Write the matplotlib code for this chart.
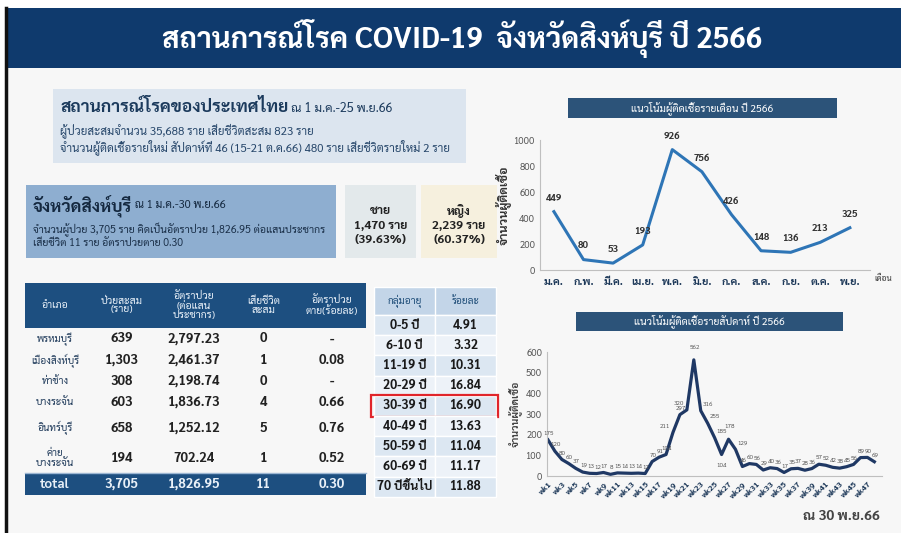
import matplotlib
matplotlib.use("Agg")
import matplotlib.pyplot as plt
from matplotlib.patches import Rectangle

plt.rcParams['font.family'] = ['Sarabun', 'Noto Sans Thai', 'DejaVu Sans']

# ---------------- data ----------------
title = "สถานการณ์โรค COVID-19  จังหวัดสิงห์บุรี ปี 2566"

th_head = "สถานการณ์โรคของประเทศไทย"
th_date = " ณ 1 ม.ค.-25 พ.ย.66"
th_lines = ["ผู้ป่วยสะสมจำนวน 35,688 ราย เสียชีวิตสะสม 823 ราย",
            "จำนวนผู้ติดเชื้อรายใหม่ สัปดาห์ที่ 46 (15-21 ต.ค.66) 480 ราย เสียชีวิตรายใหม่ 2 ราย"]

sb_head = "จังหวัดสิงห์บุรี"
sb_date = " ณ 1 ม.ค.-30 พ.ย.66"
sb_lines = ["จำนวนผู้ป่วย 3,705 ราย คิดเป็นอัตราป่วย 1,826.95 ต่อแสนประชากร",
            "เสียชีวิต 11 ราย อัตราป่วยตาย 0.30"]

male = ["ชาย", "1,470 ราย", "(39.63%)"]
female = ["หญิง", "2,239 ราย", "(60.37%)"]

dist_header = ["อำเภอ", "ป่วยสะสม\n(ราย)", "อัตราป่วย\n(ต่อแสน\nประชากร)", "เสียชีวิต\nสะสม", "อัตราป่วย\nตาย(ร้อยละ)"]
districts = ["พรหมบุรี", "เมืองสิงห์บุรี", "ท่าช้าง", "บางระจัน", "อินทร์บุรี", "ค่าย\nบางระจัน"]
cases = ["639", "1,303", "308", "603", "658", "194"]
rates = ["2,797.23", "2,461.37", "2,198.74", "1,836.73", "1,252.12", "702.24"]
deaths = ["0", "1", "0", "4", "5", "1"]
cfr = ["-", "0.08", "-", "0.66", "0.76", "0.52"]
total_row = ["total", "3,705", "1,826.95", "11", "0.30"]

age_header = ["กลุ่มอายุ", "ร้อยละ"]
age_groups = ["0-5 ปี", "6-10 ปี", "11-19 ปี", "20-29 ปี", "30-39 ปี",
              "40-49 ปี", "50-59 ปี", "60-69 ปี", "70 ปีขึ้นไป"]
age_pct = ["4.91", "3.32", "10.31", "16.84", "16.90", "13.63", "11.04", "11.17", "11.88"]
age_highlight = "30-39 ปี"

months = ["ม.ค.", "ก.พ.", "มี.ค.", "เม.ย.", "พ.ค.", "มิ.ย.", "ก.ค.", "ส.ค.", "ก.ย.", "ต.ค.", "พ.ย."]
month_cases = [449, 80, 53, 193, 926, 756, 426, 148, 136, 213, 325]

weeks = list(range(1, 49))
week_cases = [175, 120, 80, 60, 37, 19, 13, 12, 17, 8, 15, 14, 13, 14, 12, 70,
              91, 104, 211, 297, 320, 562, 316, 255, 185, 104, 178, 129, 46, 60,
              56, 29, 40, 36, 17, 35, 37, 28, 36, 57, 52, 42, 38, 45, 56, 89, 90, 69]

# ---------------- figure / canvas in pixel units ----------------
W, H = 901, 533
fig = plt.figure(figsize=(W / 100, H / 100), dpi=100)
cv = fig.add_axes([0, 0, 1, 1])
cv.set_xlim(0, W)
cv.set_ylim(H, 0)
cv.axis("off")

navy = "#0f3a6d"

def box(x0, y0, x1, y1, color, **kw):
    cv.add_patch(Rectangle((x0, y0), x1 - x0, y1 - y0, facecolor=color,
                           edgecolor=kw.pop("ec", "none"), **kw))

# slide background, banner, left border
box(7, 8, W, H, "#f7f7f7")
box(5, 8, W, 68, navy)
cv.plot([6, 6], [8, H], color="#111111", lw=2.5)
cv.text(462, 39, title, color="white", fontsize=21, fontweight="bold",
        ha="center", va="center")

# Thailand box
box(53, 89, 466, 163, "#dce5ef")
t = cv.text(60, 108, th_head, fontsize=12.5, fontweight="bold", color="#1b3a5c", va="center")
cv.annotate(th_date, xycoords=t, xy=(1, 0.5), va="center", fontsize=9, color="#1b3a5c")
for i, line in enumerate(th_lines):
    cv.text(60, 131 + i * 16, line, fontsize=8.3, color="#27476b", va="center")

# Sing Buri box
box(26, 185, 336, 258, "#8eaed0")
t = cv.text(33, 206, sb_head, fontsize=12.5, fontweight="bold", color="#14283f", va="center")
cv.annotate(sb_date, xycoords=t, xy=(1, 0.5), va="center", fontsize=8, color="#14283f")
for i, line in enumerate(sb_lines):
    cv.text(33, 230 + i * 14, line, fontsize=7.6, color="#1a2f48", va="center")

# gender boxes
for (x0, x1, col, lines) in [(345, 416, "#e3e9eb", male), (421, 497, "#f6f0de", female)]:
    box(x0, 185, x1, 258, col)
    for i, line in enumerate(lines):
        cv.text((x0 + x1) / 2, 211 + i * 14.5, line, fontsize=8.8, fontweight="bold",
                color="#222222", ha="center", va="center")

# ---------------- district table ----------------
col_edges = [25, 85, 158, 230, 297, 366]
col_mid = [(a + b) / 2 for a, b in zip(col_edges[:-1], col_edges[1:])]
head_top, head_bot = 283, 328
row_h = [22, 21, 21, 21, 30, 30]
tbl_head = "#1d4f80"
box(col_edges[0], head_top, col_edges[-1], head_bot, tbl_head)
for x, lab in zip(col_mid, dist_header):
    cv.text(x, (head_top + head_bot) / 2, lab, color="#e8f0f8", fontsize=7.5,
            ha="center", va="center", linespacing=0.95)
y = head_bot
body = list(zip(districts, cases, rates, deaths, cfr))
for h, row in zip(row_h, body):
    yc = y + h / 2
    cv.text(col_mid[0], yc, row[0], fontsize=7.3, color="#1f3a5a", ha="center",
            va="center", linespacing=1.0)
    for x, val in zip(col_mid[1:], row[1:]):
        cv.text(x, yc, val, fontsize=9.5, fontweight="bold", color="#222222",
                ha="center", va="center")
    y += h
box(col_edges[0], y, col_edges[-1], y + 22, tbl_head)
cv.plot([col_edges[0], col_edges[-1]], [y, y], color="#9db7d3", lw=1)
for x, val in zip(col_mid, total_row):
    cv.text(x, y + 11, val, fontsize=9.5, fontweight="bold", color="#e8f0f8",
            ha="center", va="center")

# ---------------- age table ----------------
ax0, axm, ax1 = 374, 435, 496
a_top, a_head_bot = 287, 315
a_row = 20.2
box(ax0, a_top, ax1, a_head_bot, "#c3d5e8", ec="white", lw=1)
for xa, xb, lab in [(ax0, axm, age_header[0]), (axm, ax1, age_header[1])]:
    cv.text((xa + xb) / 2, (a_top + a_head_bot) / 2, lab, fontsize=7.3,
            color="#1f4e79", ha="center", va="center")
cv.plot([axm, axm], [a_top, a_head_bot], color="white", lw=1)
for i, (g, p) in enumerate(zip(age_groups, age_pct)):
    y0 = a_head_bot + i * a_row
    col = "#dce7f2" if i % 2 == 0 else "#edf2f8"
    box(ax0, y0, axm, y0 + a_row, col, ec="white", lw=1)
    box(axm, y0, ax1, y0 + a_row, col, ec="white", lw=1)
    cv.text((ax0 + axm) / 2, y0 + a_row / 2, g, fontsize=9, fontweight="bold",
            color="#1a1a1a", ha="center", va="center")
    cv.text((axm + ax1) / 2, y0 + a_row / 2, p, fontsize=9, fontweight="bold",
            color="#1a1a1a", ha="center", va="center")
    if g == age_highlight:
        cv.add_patch(Rectangle((ax0 - 3, y0 - 0.5), ax1 - ax0 + 5, a_row + 1,
                               facecolor="none", edgecolor="#e0252b", lw=1.6))

# ---------------- monthly chart ----------------
box(568, 98, 837, 118, "#2c5379")
cv.text(702, 108, "แนวโน้มผู้ติดเชื้อรายเดือน ปี 2566", color="white", fontsize=7.5,
        ha="center", va="center")

m_ax = fig.add_axes([540 / W, 1 - 270 / H, 330 / W, 130 / H])
xm = list(range(len(months)))
m_ax.plot(xm, month_cases, color="#2e75b6", lw=2.2)
for x, v in zip(xm, month_cases):
    m_ax.annotate(str(v), (x, v), xytext=(0, 8), textcoords="offset points",
                  ha="center", fontsize=7, fontweight="bold", color="#333333")
m_ax.set_xlim(-0.47, 10.68)
m_ax.set_ylim(0, 1000)
m_ax.set_yticks(range(0, 1001, 200))
m_ax.set_xticks(xm)
m_ax.set_xticklabels(months, fontsize=7.8, fontweight="bold", color="#1f3a5a")
m_ax.tick_params(axis="y", labelsize=7, colors="#555555", length=0)
m_ax.tick_params(axis="x", length=0, pad=4)
m_ax.set_facecolor("none")
for s in ["top", "right"]:
    m_ax.spines[s].set_visible(False)
for s in ["left", "bottom"]:
    m_ax.spines[s].set_color("#bfbfbf")
m_ax.set_ylabel("จำนวนผู้ติดเชื้อ", fontsize=9, fontweight="bold", color="#333333", labelpad=2)
cv.text(883, 279, "เดือน", fontsize=6, color="#333333", ha="center", va="center")

# ---------------- weekly chart ----------------
box(576, 312, 843, 331, "#2c5379")
cv.text(709, 321.5, "แนวโน้มผู้ติดเชื้อรายสัปดาห์ ปี 2566", color="white", fontsize=7.5,
        ha="center", va="center")

w_ax = fig.add_axes([547 / W, 1 - 476 / H, 335 / W, 124 / H])
w_ax.plot(weeks, week_cases, color="#1f3864", lw=2.3)
for i, (x, v) in enumerate(zip(weeks, week_cases)):
    prev = week_cases[max(i - 1, 0)]
    nxt = week_cases[min(i + 1, len(week_cases) - 1)]
    slope = nxt - prev
    dx = -6 if slope > 130 else (5 if slope < -100 else 0.5)
    dy = 3.5
    if prev - v > 50 and nxt - v > 50:  # deep valley: label under the line
        dx, dy = 0, -9
    elif v - prev > 30 and v - nxt > 30:  # local peak: lift label
        dy = 8
    w_ax.annotate(str(v), (x, v), xytext=(dx, dy), textcoords="offset points",
                  ha="center", fontsize=4.6, color="#595959")
w_ax.set_xlim(0.86, 49.1)
w_ax.set_ylim(0, 600)
w_ax.set_yticks(range(0, 601, 100))
w_ax.set_xticks(weeks[::2])
w_ax.set_xticklabels([f"wk{w}" for w in weeks[::2]], rotation=45, ha="right",
                     rotation_mode="anchor", fontsize=6, fontweight="bold", color="#1f3a5a")
w_ax.tick_params(axis="y", labelsize=7, colors="#555555", length=0)
w_ax.tick_params(axis="x", length=0, pad=3)
w_ax.set_facecolor("none")
for s in ["top", "right"]:
    w_ax.spines[s].set_visible(False)
for s in ["left", "bottom"]:
    w_ax.spines[s].set_color("#bfbfbf")
w_ax.set_ylabel("จำนวนผู้ติดเชื้อ", fontsize=7.5, fontweight="bold", color="#444444", labelpad=2)

cv.text(880, 516, "ณ 30 พ.ย.66", fontsize=10, fontweight="bold", color="#444444",
        ha="right", va="center")

fig.savefig("out.png", dpi=100)
